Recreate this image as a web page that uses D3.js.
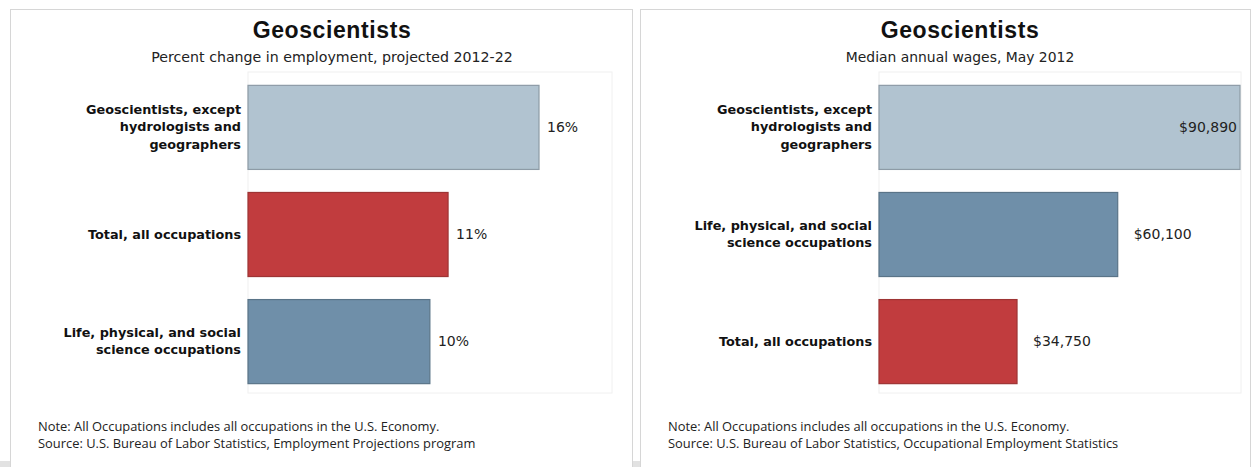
<!DOCTYPE html>
<html>
<head>
<meta charset="utf-8">
<script src="https://cdn.jsdelivr.net/npm/d3@7"></script>
<style>
  body { margin: 0; background: #fff; }
  svg { display: block; }
</style>
</head>
<body>
<div id="chart"></div>
<script>
// left panel: projected employment change
const empTitle = "Geoscientists";
const empSubtitle = "Percent change in employment, projected 2012-22";
const empCategories = ["Geoscientists, except hydrologists and geographers", "Total, all occupations", "Life, physical, and social science occupations"];
const empLabelLines = [["Geoscientists, except", "hydrologists and", "geographers"], ["Total, all occupations"], ["Life, physical, and social", "science occupations"]];
const empValues = [16, 11, 10];
const empNotes = ["Note: All Occupations includes all occupations in the U.S. Economy.", "Source: U.S. Bureau of Labor Statistics, Employment Projections program"];

// right panel: median wages
const wageTitle = "Geoscientists";
const wageSubtitle = "Median annual wages, May 2012";
const wageCategories = ["Geoscientists, except hydrologists and geographers", "Life, physical, and social science occupations", "Total, all occupations"];
const wageLabelLines = [["Geoscientists, except", "hydrologists and", "geographers"], ["Life, physical, and social", "science occupations"], ["Total, all occupations"]];
const wageValues = [90890, 60100, 34750];
const wageNotes = ["Note: All Occupations includes all occupations in the U.S. Economy.", "Source: U.S. Bureau of Labor Statistics, Occupational Employment Statistics"];

const colorFor = {
    "Geoscientists, except hydrologists and geographers": {fill: "#b1c3d0", stroke: "#8d9ba6"},
    "Total, all occupations": {fill: "#c13c3e", stroke: "#9e3434"},
    "Life, physical, and social science occupations": {fill: "#6f8fa9", stroke: "#5a7488"}
};

var width = 1251, height = 467;

var svg = d3.select("#chart").append("svg")
    .attr("width", width)
    .attr("height", height);

// bottom shadow strip
svg.append("rect")
    .attr("x", 0).attr("y", 461)
    .attr("width", width).attr("height", 6)
    .style("fill", "#e2e2e2");

function buildPanel(opts) {
    var g = svg.append("g").attr("transform", `translate(${opts.left},0)`);

    // panel frame
    g.append("rect")
        .attr("x", 0.5).attr("y", 9.5)
        .attr("width", opts.width).attr("height", 460)
        .style("fill", "#fff")
        .style("stroke", "#d6d6d6");

    var x = d3.scaleLinear()
        .domain([0, d3.max(opts.values)])
        .range([opts.x0, opts.x0 + opts.barMax]);

    var y = d3.scaleBand()
        .domain(opts.categories)
        .range([72, 396])
        .paddingInner(0.215)
        .paddingOuter(0.12);

    // faint plot frame
    g.append("rect")
        .attr("x", opts.x0).attr("y", 72)
        .attr("width", opts.plotWidth).attr("height", 321)
        .style("fill", "none")
        .style("stroke", "#f0f0f0");

    g.append("text")
        .attr("x", opts.cx).attr("y", 38)
        .attr("text-anchor", "middle")
        .style("font-family", "Liberation Sans, Arial, sans-serif")
        .style("font-weight", "bold")
        .style("font-size", "23px")
        .style("letter-spacing", "0.6px")
        .style("fill", "#111")
        .text(opts.title);

    g.append("text")
        .attr("x", opts.cx).attr("y", 62)
        .attr("text-anchor", "middle")
        .style("font-family", "DejaVu Sans, sans-serif")
        .style("font-size", opts.subSize)
        .style("fill", "#222")
        .text(opts.subtitle);

    g.selectAll(".bar")
        .data(opts.categories)
        .enter().append("rect")
        .attr("class", "bar")
        .attr("x", x(0))
        .attr("y", d => y(d) + 0.5)
        .attr("width", (d, i) => x(opts.values[i]) - x(0))
        .attr("height", y.bandwidth())
        .style("fill", d => colorFor[d].fill)
        .style("stroke", d => colorFor[d].stroke)
        .style("stroke-width", 1.2);

    // category labels
    var lab = g.selectAll(".cat")
        .data(opts.categories)
        .enter().append("text")
        .attr("class", "cat")
        .attr("text-anchor", "end")
        .style("font-family", "DejaVu Sans, sans-serif")
        .style("font-weight", "bold")
        .style("font-size", "12.8px")
        .style("fill", "#111");
    lab.each(function(d, i) {
        var lines = opts.lines[i];
        var cy = y(d) + y.bandwidth() / 2;
        var top = cy - (lines.length - 1) * 17.5 / 2;
        d3.select(this).selectAll("tspan")
            .data(lines)
            .enter().append("tspan")
            .attr("x", opts.x0 - 7)
            .attr("y", (l, k) => top + k * 17.5 + 4.5)
            .text(l => l);
    });

    // value labels
    g.selectAll(".val")
        .data(opts.categories)
        .enter().append("text")
        .attr("class", "val")
        .attr("x", (d, i) => opts.inside(i) ? x(opts.values[i]) - 3 : x(opts.values[i]) + opts.gap)
        .attr("y", d => y(d) + y.bandwidth() / 2 + 5)
        .attr("text-anchor", (d, i) => opts.inside(i) ? "end" : "start")
        .style("font-family", "DejaVu Sans, sans-serif")
        .style("font-size", "14px")
        .style("fill", "#222")
        .text((d, i) => opts.format(opts.values[i]));

    g.selectAll(".note")
        .data(opts.notes)
        .enter().append("text")
        .attr("class", "note")
        .attr("x", 28)
        .attr("y", (d, i) => 431 + i * 17)
        .style("font-family", "Open Sans, sans-serif")
        .style("font-size", "12.9px")
        .style("fill", "#222")
        .text(d => d);
}

buildPanel({
    left: 10, width: 622, cx: 322,
    x0: 238, barMax: 291, plotWidth: 364, gap: 8, subSize: "14.2px",
    title: empTitle, subtitle: empSubtitle,
    categories: empCategories, lines: empLabelLines, values: empValues,
    notes: empNotes,
    format: v => v + "%",
    inside: i => false
});

buildPanel({
    left: 640, width: 610, cx: 320,
    x0: 239, barMax: 361, plotWidth: 362, gap: 16, subSize: "13.9px",
    title: wageTitle, subtitle: wageSubtitle,
    categories: wageCategories, lines: wageLabelLines, values: wageValues,
    notes: wageNotes,
    format: v => "$" + d3.format(",")(v),
    inside: i => i === 0
});
</script>
</body>
</html>
